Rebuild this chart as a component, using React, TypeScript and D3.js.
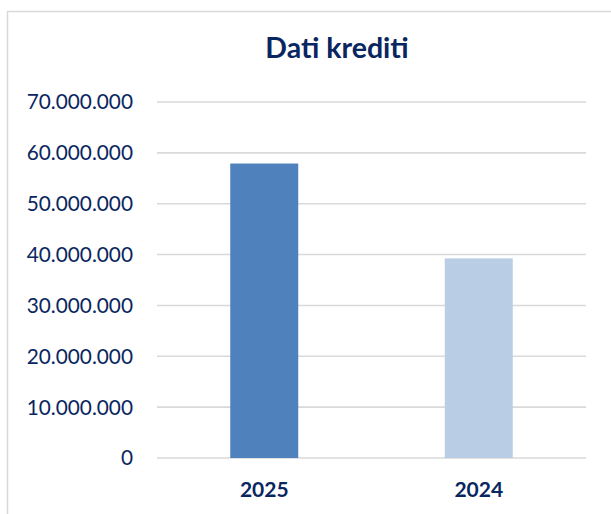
import React from "react";
import * as d3 from "d3";

const categories = ["2025", "2024"];
const values = [57900000, 39250000];
const barColors = ["#4F81BD", "#B9CDE5"];
const yTicks = [0, 10000000, 20000000, 30000000, 40000000, 50000000, 60000000, 70000000];
const title = "Dati krediti";

const W = 611;
const H = 514;
const margin = { left: 157, right: 25, top: 102, bottom: 56 };
const textColor = "#0A2660";
const font = "Lato, 'Liberation Sans', Arial, sans-serif";

const fmt = (v: number) => d3.format(",")(v).replace(/,/g, ".");

export default function App() {
  const x = d3
    .scaleBand<string>()
    .domain(categories)
    .range([margin.left, W - margin.right])
    .paddingInner(0.683)
    .paddingOuter(0.3415);
  const y = d3.scaleLinear().domain([0, 70000000]).range([H - margin.bottom, margin.top]);

  return (
    <svg
      width={W}
      height={H}
      style={{ position: "absolute", left: 0, top: 0, background: "#fff" }}
      fontFamily={font}
    >
      <rect x={7.5} y={11.5} width={700} height={600} fill="#fff" stroke="#D9D9D9" strokeWidth={1.5} />
      <text x={337} y={58} textAnchor="middle" fontSize={28.5} fontWeight={700} fill={textColor}>
        {title}
      </text>
      {yTicks.map((t) => (
        <g key={t}>
          <line
            x1={margin.left}
            x2={W - margin.right}
            y1={y(t)}
            y2={y(t)}
            stroke="#D9D9D9"
            strokeWidth={1.6}
          />
          <text
            x={133}
            y={y(t)}
            dy="0.36em"
            textAnchor="end"
            fontSize={20.8}
            fill={textColor}
          >
            {fmt(t)}
          </text>
        </g>
      ))}
      {categories.map((c, i) => (
        <g key={c}>
          <rect
            x={x(c)!}
            y={y(values[i])}
            width={x.bandwidth()}
            height={y(0) - y(values[i])}
            fill={barColors[i]}
          />
          <text
            x={x(c)! + x.bandwidth() / 2}
            y={497}
            textAnchor="middle"
            fontSize={21}
            fontWeight={700}
            fill={textColor}
          >
            {c}
          </text>
        </g>
      ))}
    </svg>
  );
}
